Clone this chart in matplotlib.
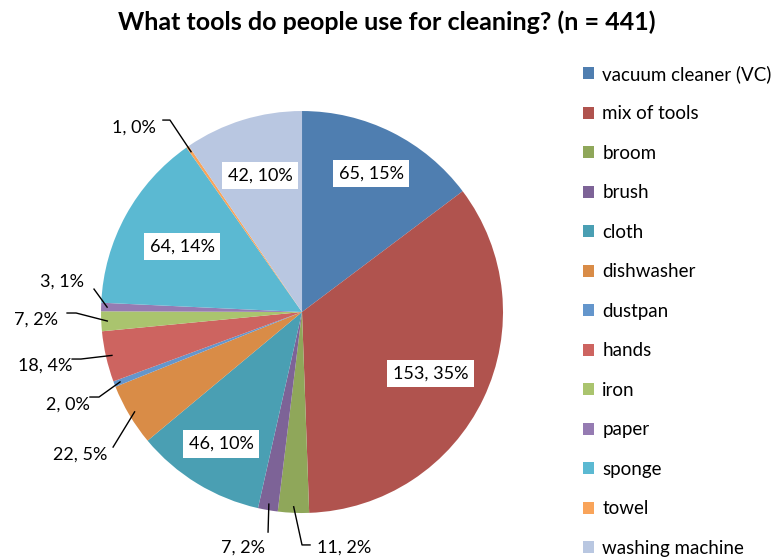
import numpy as np
import matplotlib.pyplot as plt
from matplotlib.patches import Patch

plt.rcParams['font.family'] = ['Lato', 'DejaVu Sans']

tools = ["vacuum cleaner (VC)", "mix of tools", "broom", "brush", "cloth", "dishwasher",
         "dustpan", "hands", "iron", "paper", "sponge", "towel", "washing machine"]
counts = [65, 153, 11, 7, 46, 22, 2, 18, 7, 3, 64, 1, 42]
pcts = [15, 35, 2, 2, 10, 5, 0, 4, 2, 1, 14, 0, 10]
colors = ["#4F7EB0", "#B0534E", "#8FA75A", "#7D6397", "#4A9FB3", "#D98C47", "#6496CC",
          "#CD6460", "#AAC46E", "#957BB2", "#5BB9D2", "#F9A45A", "#B9C7E1"]

# labels drawn inside the wedges (index -> radius)
inside = {0: 0.77, 1: 0.71, 4: 0.77, 10: 0.68, 12: 0.71}
# labels outside: index -> (text x, text y, leader points)
outside = {
    11: (-0.836, 0.915, [(-0.657, 0.955), (-0.692, 0.955)]),
    9: (-1.194, 0.149, [(-1.035, 0.114)]),
    8: (-1.323, -0.040, [(-1.124, -0.005), (-1.169, -0.005)]),
    7: (-1.279, -0.269, [(-1.100, -0.234), (-1.144, -0.234)]),
    6: (-1.164, -0.463, [(-1.010, -0.423), (-1.055, -0.423)]),
    5: (-1.104, -0.711, [(-0.940, -0.672)]),
    3: (-0.294, -1.174, [(-0.169, -1.095)]),
    2: (0.209, -1.174, [(0.0, -1.159), (0.040, -1.159)]),
}

fig = plt.figure(figsize=(7.79, 5.59), dpi=100)
ax = fig.add_axes([0.1297, 0.0823, 0.516, 0.7191])
wedges, _ = ax.pie(counts, colors=colors, startangle=90, counterclock=False,
                   wedgeprops=dict(linewidth=0))
ax.set_xlim(-1, 1)
ax.set_ylim(-1, 1)
ax.set_aspect('equal')
ax.axis('off')

for i, w in enumerate(wedges):
    lab = f"{counts[i]}, {pcts[i]}%"
    ang = np.deg2rad((w.theta1 + w.theta2) / 2)
    if i in inside:
        r = inside[i]
        ax.text(r * np.cos(ang), r * np.sin(ang), lab, ha='center', va='center',
                fontsize=13, bbox=dict(facecolor='white', edgecolor='none', pad=4))
    else:
        tx, ty, pts = outside[i]
        ex, ey = 0.97 * np.cos(ang), 0.97 * np.sin(ang)
        xs = [ex] + [p[0] for p in pts]
        ys = [ey] + [p[1] for p in pts]
        ax.plot(xs, ys, color='black', lw=1, clip_on=False)
        ax.text(tx, ty, lab, ha='center', va='center', fontsize=13, clip_on=False)

fig.text(0.497, 0.96, "What tools do people use for cleaning? (n = 441)", ha='center',
         va='center', fontsize=18, fontweight='bold')

handles = [Patch(facecolor=c, edgecolor='none') for c in colors]
fig.legend(handles, tools, loc='upper left', bbox_to_anchor=(0.748, 0.884),
           frameon=False, fontsize=13.5, handlelength=0.6, handleheight=0.6,
           handletextpad=0.45, labelspacing=1.2, borderaxespad=0, borderpad=0)

fig.savefig("out.png", dpi=100)
